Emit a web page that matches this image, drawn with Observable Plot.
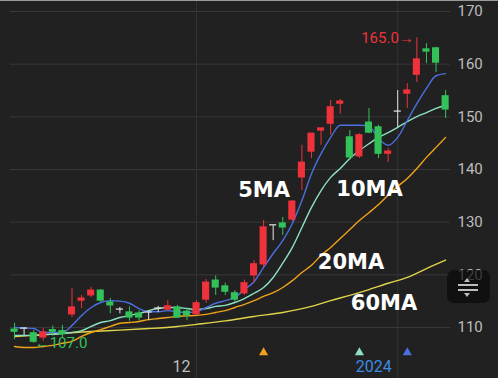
<!DOCTYPE html>
<html><head><meta charset="utf-8">
<script src="https://cdn.jsdelivr.net/npm/d3@7"></script>
<script src="https://cdn.jsdelivr.net/npm/@observablehq/plot@0.6"></script>
<style>
html,body{margin:0;padding:0;background:#212121;}
body{width:498px;height:378px;overflow:hidden;position:relative;}
#chart svg{display:block;}
#topline{position:absolute;left:0;top:0;width:498px;height:1px;background:#9a9a9a;}
#tool{position:absolute;left:447px;top:270px;width:43px;height:33px;border-radius:7px;background:rgba(10,10,10,0.72);}
g[aria-label="ma-label"] text{letter-spacing:1.5px;}
</style></head><body>
<div id="chart"></div>
<div id="tool"><svg width="43" height="33">
<path d="M20 8 L23 12 L17 12 Z" fill="#bdbdbd"/>
<line x1="11" y1="15" x2="31" y2="15" stroke="#bdbdbd" stroke-width="2"/>
<line x1="11" y1="20" x2="31" y2="20" stroke="#bdbdbd" stroke-width="2"/>
<path d="M17 23 L23 23 L20 27 Z" fill="#bdbdbd"/>
</svg></div>
<div id="topline"></div>
<script>
// ---- data ----
const opens  = [109.6,109.8,108.9,108.1,109.5,109.3,112.5,115.1,116.1,117.0,
                114.75,113.4,112.85,112.65,112.85,113.6,113.4,113.8,113.0,112.5,
                115.3,118.9,117.8,116.5,116.5,119.9,122.0,129.4,129.75,130.5,
                138.5,143.4,147.4,148.7,152.5,146.1,142.5,148.9,148.0,143.0,
                151.0,154.4,158.0,162.8,163.0,153.9];
const closes = [109.2,109.8,107.3,109.05,109.2,108.7,113.8,115.5,117.0,115.1,
                114.2,113.4,111.9,111.9,112.85,113.6,114.0,111.9,112.3,114.6,
                118.5,117.6,116.8,115.3,118.4,122.0,129.0,129.4,129.0,133.9,
                141.3,146.8,147.8,151.8,152.9,142.3,146.5,147.0,143.0,143.4,
                151.0,155.0,160.9,162.4,160.3,151.4];
const highs  = [110.8,109.9,109.4,109.8,110.3,110.4,117.4,116.1,117.6,117.2,
                115.5,113.8,113.9,113.2,112.9,114.0,115.1,114.2,113.6,115.1,
                119.1,119.8,118.4,117.0,119.0,122.7,130.3,129.4,130.9,134.1,
                144.6,146.8,147.8,153.1,153.3,147.4,146.8,151.6,148.4,144.0,
                155.0,156.3,165.0,163.9,163.2,155.0];
const lows   = [107.7,108.5,107.0,107.4,108.3,108.0,111.9,113.6,115.7,114.8,
                112.6,112.6,111.2,111.2,111.3,112.85,113.2,111.7,111.3,112.3,
                114.6,116.1,116.1,114.75,116.1,118.4,121.4,126.5,127.5,130.1,
                136.0,142.1,144.6,146.5,150.5,141.7,142.1,146.8,142.1,141.3,
                148.0,151.6,156.5,160.1,158.4,149.7];

const ma5  = [110.0,109.9,109.8,109.05,109.05,109.05,110.4,112.3,113.8,114.75,
              115.1,115.0,114.6,113.6,113.0,113.0,113.2,113.0,112.85,113.0,
              113.8,114.6,115.1,115.7,117.2,118.7,121.4,124.05,126.5,129.75,
              134.1,139.2,143.0,146.1,148.4,148.4,148.4,148.2,145.9,144.6,
              146.1,149.3,152.5,155.4,157.8,158.2];
const ma10 = [108.5,108.5,108.5,108.7,108.7,108.9,109.05,109.4,110.2,110.95,
              111.3,111.9,112.3,112.65,113.2,113.6,113.8,113.8,113.6,113.4,
              113.6,114.0,114.2,114.75,115.5,116.5,117.6,119.5,122.2,125.2,
              129.0,132.8,136.0,138.5,140.2,142.1,143.6,144.9,146.1,147.0,
              148.0,149.1,150.05,150.8,151.6,152.2];
const ma20 = [106.4,106.2,106.2,106.4,106.6,107.0,107.35,108.3,109.05,109.6,
              110.2,110.8,110.95,111.15,111.5,111.7,111.9,112.1,112.2,112.3,
              112.5,112.85,113.2,113.8,114.4,115.1,115.9,116.6,117.6,118.9,
              120.45,121.8,123.7,125.2,126.9,128.6,130.3,131.8,133.35,135.1,
              136.8,138.3,140.2,142.3,144.2,146.1];
const ma60Idx = [0,2,5,8,11,14,17,19,22,25,28,31,33,35,37,39,41,43,45];
const ma60    = [108.3,108.5,108.9,109.25,109.5,109.8,110.2,110.6,111.25,112.1,
                 112.85,114.0,115.1,116.1,117.2,118.4,119.5,121.2,122.8];

const yTicks = [110,120,130,140,150,160,170];
const monthIdx = [19,40];
const monthLabels = ["12","2024"];
const maNames = ["5MA","10MA","20MA","60MA"];
const markerIdx = [26,36,41];   // signal markers (20MA, 10MA, 5MA colours)

// ---- annotation anchors (data coordinates) ----
const maLabelIdx = [26.05,37.06,35.13,38.57];
const maLabelVal = [136.0,136.2,122.35,114.65];

// ---- styles ----
const RED="#f0323c", GREEN="#33c25a", WHITE="#e6e6e6";
const C5="#4a70e0", C10="#8de0c2", C20="#f0a31a", C60="#e0d54a";
const markerColors=[C20,C10,C5];

const candles = opens.map((o,i)=>({i, open:o, close:closes[i], high:highs[i], low:lows[i],
  dir: closes[i]>o ? "up" : closes[i]<o ? "down" : "flat"}));
const hiVal = d3.max(highs), hiIdx = highs.indexOf(hiVal);
const loVal = d3.min(lows),  loIdx = lows.indexOf(loVal);

const lineOf = (vals, idx, color) => Plot.line(vals, {x:(d,k)=>idx?idx[k]:k, y:d=>d, stroke:color, strokeWidth:1.4, curve:"monotone-x"});

const chart = Plot.plot({
  width:498, height:378,
  marginTop:11, marginBottom:51, marginLeft:10, marginRight:48,
  x:{domain:[-0.42,45.51], axis:null},
  y:{domain:[110,170], axis:null},
  color:{domain:["up","down","flat"], range:[RED,GREEN,WHITE]},
  style:{background:"transparent", fontFamily:"Roboto, sans-serif", overflow:"visible"},
  marks:[
    Plot.gridY(yTicks, {stroke:"#383838", strokeOpacity:1}),
    Plot.ruleX(monthIdx, {x:d=>d, stroke:"#333333", insetTop:-11, insetBottom:-51}),
    Plot.axisY(yTicks, {anchor:"right", tickSize:0, tickPadding:7, fontSize:15, fill:"#bdbdbd", tickFormat:d=>String(d)}),
    lineOf(ma60, ma60Idx, C60),
    lineOf(ma20, null, C20),
    lineOf(ma10, null, C10),
    lineOf(ma5, null, C5),
    Plot.ruleX(candles, {x:"i", y1:"low", y2:"high", stroke:"dir", strokeWidth:1}),
    Plot.rect(candles, {x1:d=>d.i-0.37, x2:d=>d.i+0.37, y1:"open", y2:"close", fill:"dir", insetTop:-0.6, insetBottom:-0.6}),
    Plot.text(maNames, {x:(d,k)=>maLabelIdx[k], y:(d,k)=>maLabelVal[k], text:d=>d, fill:"#ffffff",
      fontSize:21, fontWeight:"bold", fontFamily:"DejaVu Sans", textAnchor:"middle", ariaLabel:"ma-label"}),
    Plot.text([hiVal], {x:[hiIdx], y:d=>d, text:d=>d.toFixed(1)+"→", textAnchor:"end", dx:-3, fill:RED, fontSize:15}),
    Plot.text([loVal], {x:[loIdx], y:d=>d, text:d=>"←"+d.toFixed(1), textAnchor:"start", dx:1, fill:GREEN, fontSize:15}),
    Plot.text([monthLabels[0]], {x:[monthIdx[0]], text:d=>d, frameAnchor:"bottom", dy:44, dx:-6, textAnchor:"end", fill:"#bdbdbd", fontSize:16}),
    Plot.text([monthLabels[1]], {x:[monthIdx[1]], text:d=>d, frameAnchor:"bottom", dy:44, dx:-6, textAnchor:"end", fill:"#3b8de0", fontSize:16}),
    ...markerIdx.map((ix,k)=>Plot.dot([ix], {x:d=>d, symbol:"triangle", r:3.4, fill:markerColors[k], stroke:"none", frameAnchor:"bottom", dy:25}))
  ]
});
document.getElementById("chart").appendChild(chart);
</script>
</body></html>
